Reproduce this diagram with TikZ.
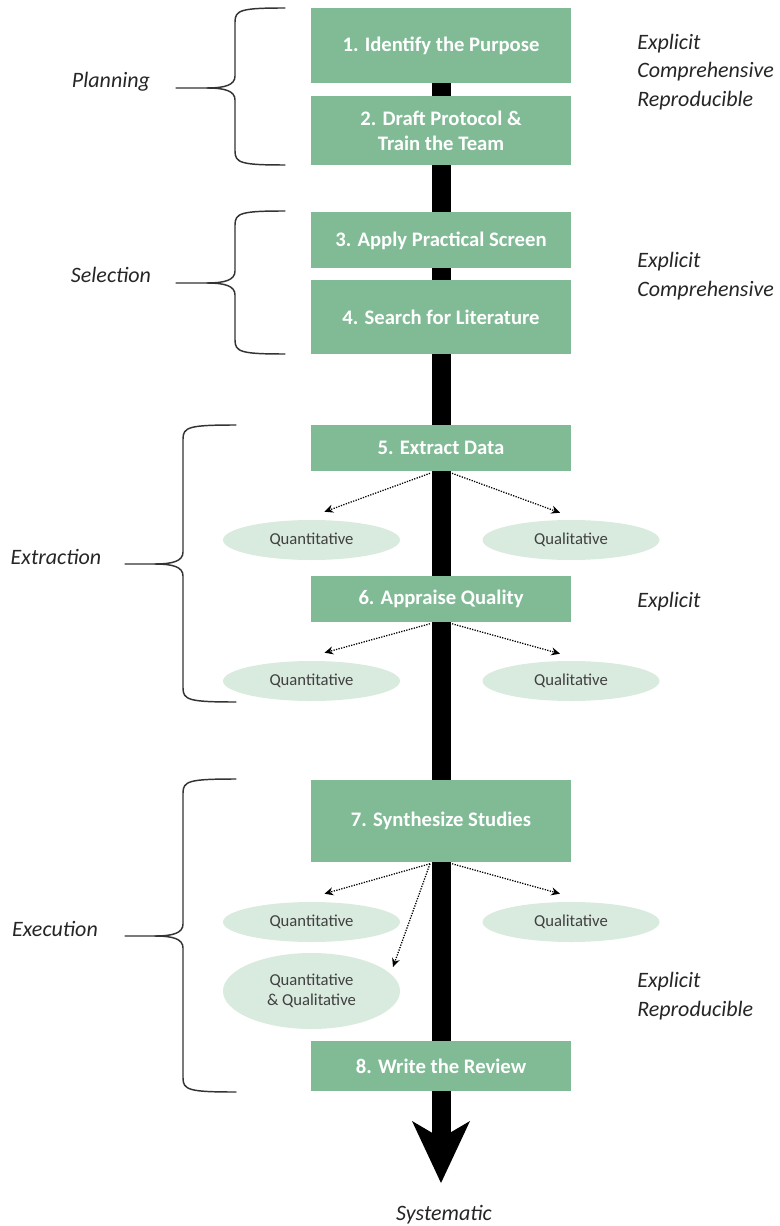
\documentclass[tikz,border=0pt]{standalone}
\usepackage{fontspec}
\setmainfont{Carlito}
\usetikzlibrary{shapes.geometric,arrows.meta,calc,backgrounds}

\definecolor{stepgreen}{RGB}{129,187,150}
\definecolor{branchfill}{RGB}{217,234,223}
\definecolor{labelgrey}{RGB}{38,38,38}
\definecolor{branchtext}{RGB}{64,64,64}

% curly brace: #1 right end x, #2 stem x, #3 top y, #4 bottom y, #5 tip x, #6 tip y
\newcommand\phasebrace[6]{%
  \draw[bracestyle] (#1,#3) .. controls (#2+6,#3) and (#2,#3+2) .. (#2,#3+14)
    -- (#2,#6-12) .. controls (#2,#6-3) and (#2-10,#6) .. (#2-28,#6) -- (#5,#6);
  \draw[bracestyle] (#1,#4) .. controls (#2+6,#4) and (#2,#4-2) .. (#2,#4-14)
    -- (#2,#6+12) .. controls (#2,#6+3) and (#2-10,#6) .. (#2-28,#6);
}

\begin{document}
\begin{tikzpicture}[x=0.75pt,y=-0.75pt,
  stepbox/.style={rectangle, fill=stepgreen, text=white, inner sep=0pt,
    minimum width=195pt, align=center,
    font=\bfseries\fontsize{15.5}{18.75}\selectfont},
  branch/.style={ellipse, fill=branchfill, text=branchtext, inner sep=0pt,
    minimum width=132.75pt, minimum height=30pt, align=center,
    font=\fontsize{12.5}{15}\selectfont},
  phase/.style={text=labelgrey, inner sep=0pt, anchor=base,
    font=\itshape\fontsize{16.5}{21.4}\selectfont},
  quality/.style={text=labelgrey, inner sep=0pt, anchor=west, align=left,
    font=\itshape\fontsize{16.5}{21.4}\selectfont},
  spine/.style={line width=14.25pt, black,
    -{Stealth[length=46.5pt, width=43.5pt, inset=12.75pt, line width=0pt]}},
  dotarrow/.style={densely dotted, line width=0.95pt, black,
    -{Stealth[length=6.5pt, width=6pt]}},
  bracestyle/.style={line width=1.1pt, black!80, line cap=round}
]
\useasboundingbox (0,0) rectangle (780,1226);

% process steps
\node[stepbox, minimum height=56.25pt] (b1) at (441,45.5) {1. Identify the Purpose};
\node[stepbox, minimum height=51.75pt] (b2) at (441,130.5) {2. Draft Protocol \&\\Train the Team};
\node[stepbox, minimum height=42pt]    (b3) at (441,240.5) {3. Apply Practical Screen};
\node[stepbox, minimum height=55.5pt]  (b4) at (441,317) {4. Search for Literature};
\node[stepbox, minimum height=34.5pt]  (b5) at (441,448) {5. Extract Data};
\node[stepbox, minimum height=34.5pt]  (b6) at (441,598.5) {6. Appraise Quality};
\node[stepbox, minimum height=61.5pt]  (b7) at (441,820.5) {7. Synthesize Studies};
\node[stepbox, minimum height=37.5pt]  (b8) at (441,1066) {8. Write the Review};
\coordinate (tip) at (441,1183);

% branches
\node[branch] (q5) at (311.5,540) {Quantitative};
\node[branch] (l5) at (571,540) {Qualitative};
\node[branch] (q6) at (311.5,681) {Quantitative};
\node[branch] (l6) at (571,681) {Qualitative};
\node[branch] (q7) at (311.5,922) {Quantitative};
\node[branch] (l7) at (571,922) {Qualitative};
\node[branch, minimum height=57pt] (qq7) at (311.5,991) {Quantitative\\\& Qualitative};

% main flow
\begin{scope}[on background layer]
  \draw[spine] (b1.south) -- (tip);
\end{scope}

% branch connectors
\draw[dotarrow] ($(b5.south)+(-11,2)$) -- ($(q5.north)+(13,-8)$);
\draw[dotarrow] ($(b5.south)+(11,2)$)  -- ($(l5.north)+(-11,-7)$);
\draw[dotarrow] ($(b6.south)+(-11,2)$) -- ($(q6.north)+(13,-8)$);
\draw[dotarrow] ($(b6.south)+(11,2)$)  -- ($(l6.north)+(-11,-7)$);
\draw[dotarrow] ($(b7.south)+(-11,2)$) -- ($(q7.north)+(13,-8)$);
\draw[dotarrow] ($(b7.south)+(11,2)$)  -- ($(l7.north)+(-11,-8)$);
\draw[dotarrow] ($(b7.south)+(-11,2)$) -- ($(qq7.center)+(81.5,-24)$);

% phases
\phasebrace{285}{235}{8}{165}{176}{88}
\phasebrace{285}{235}{211}{354}{176}{283}
\phasebrace{236}{183}{425}{702}{125}{564}
\phasebrace{236}{183}{779}{1092}{125}{936}
\node[phase] (pPlan) at (111,88) {Planning};
\node[phase] (pSel)  at (111,283) {Selection};
\node[phase] (pExt)  at (56,564) {Extraction};
\node[phase] (pExe)  at (55,936) {Execution};

% qualities
\node[quality] (r1) at (637,72) {Explicit\\Comprehensive\\Reproducible};
\node[quality] (r2) at (637,276) {Explicit\\Comprehensive};
\node[quality] (r3) at (637,602) {Explicit};
\node[quality] (r4) at (637,996) {Explicit\\Reproducible};
\node[phase] (sys) at (444,1220) {Systematic};
\end{tikzpicture}
\end{document}
